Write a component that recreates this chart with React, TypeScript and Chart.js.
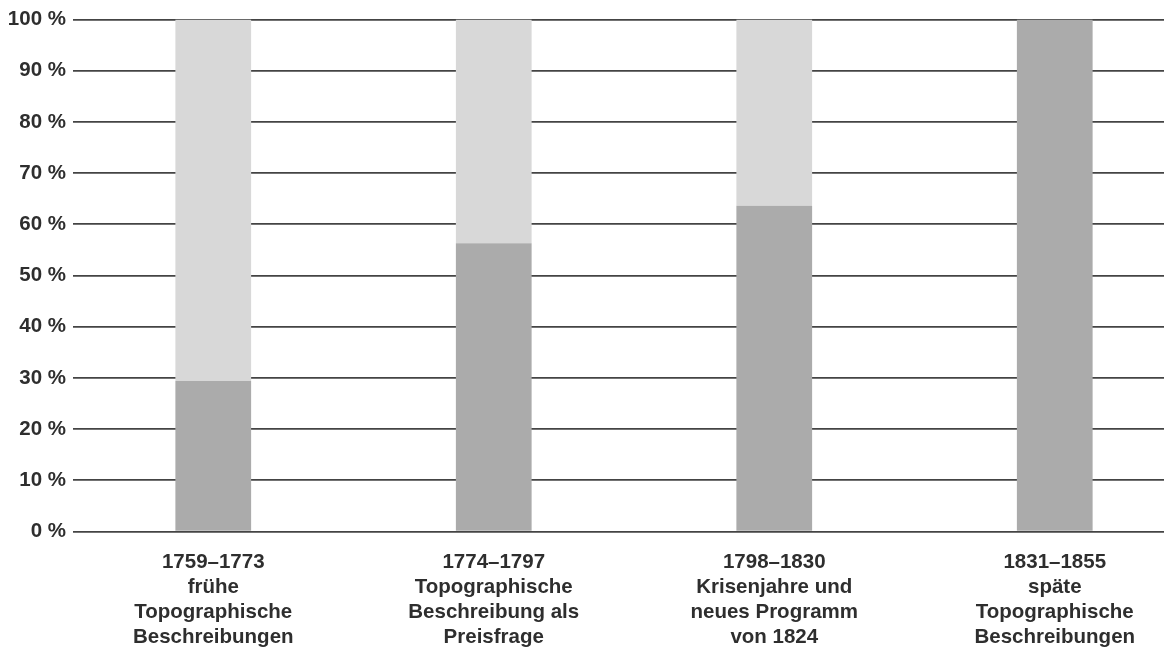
import React, { useEffect, useRef } from "react";
import { Chart, registerables } from "chart.js";

Chart.register(...registerables);

const categories: string[][] = [
  ["1759–1773", "frühe", "Topographische", "Beschreibungen"],
  ["1774–1797", "Topographische", "Beschreibung als", "Preisfrage"],
  ["1798–1830", "Krisenjahre und", "neues Programm", "von 1824"],
  ["1831–1855", "späte", "Topographische", "Beschreibungen"],
];
const darkShare: number[] = [29.4, 56.3, 63.6, 100];
const lightShare: number[] = [70.6, 43.7, 36.4, 0];
const yTicks: number[] = [0, 10, 20, 30, 40, 50, 60, 70, 80, 90, 100];

const FONT = "'Liberation Sans', Arial, sans-serif";

export default function App() {
  const ref = useRef<HTMLCanvasElement | null>(null);
  useEffect(() => {
    if (!ref.current) return;
    const chart = new Chart(ref.current, {
      type: "bar",
      data: {
        labels: categories,
        datasets: [
          {
            label: "Anteil A",
            data: darkShare,
            backgroundColor: "#ababab",
            borderWidth: 0,
            barPercentage: 0.27,
            categoryPercentage: 1,
          },
          {
            label: "Anteil B",
            data: lightShare,
            backgroundColor: "#d8d8d8",
            borderWidth: 0,
            barPercentage: 0.27,
            categoryPercentage: 1,
          },
        ],
      },
      options: {
        responsive: false,
        animation: false,
        layout: { padding: { top: 19.5, left: 0, right: 0, bottom: 0 } },
        plugins: { legend: { display: false }, tooltip: { enabled: false } },
        scales: {
          x: {
            stacked: true,
            grid: { display: false, drawTicks: false },
            border: { display: false },
            ticks: {
              color: "#2e2e2e",
              font: { family: FONT, size: 20.5, weight: "bold", lineHeight: 1.22 },
              padding: 18,
              maxRotation: 0,
              autoSkip: false,
            },
            afterFit: (s: any) => {
              s.height = 116.5;
            },
          },
          y: {
            stacked: true,
            min: 0,
            max: 100,
            afterBuildTicks: (s: any) => {
              s.ticks = yTicks.map((v) => ({ value: v }));
            },
            grid: { color: "#444444", lineWidth: 1.7, drawTicks: false },
            border: { display: false },
            ticks: {
              color: "#2e2e2e",
              font: { family: FONT, size: 20.5, weight: "bold" },
              padding: 7,
              callback: (v: any) => `${v} %`,
            },
            afterFit: (s: any) => {
              s.width = 73;
            },
          },
        },
      },
    });
    return () => chart.destroy();
  }, []);
  return (
    <div
      style={{
        position: "fixed",
        left: 0,
        top: 0,
        width: 1164,
        height: 648,
        overflow: "hidden",
        background: "#fff",
      }}
    >
      <canvas ref={ref} width={1195} height={648} style={{ display: "block" }} />
    </div>
  );
}
